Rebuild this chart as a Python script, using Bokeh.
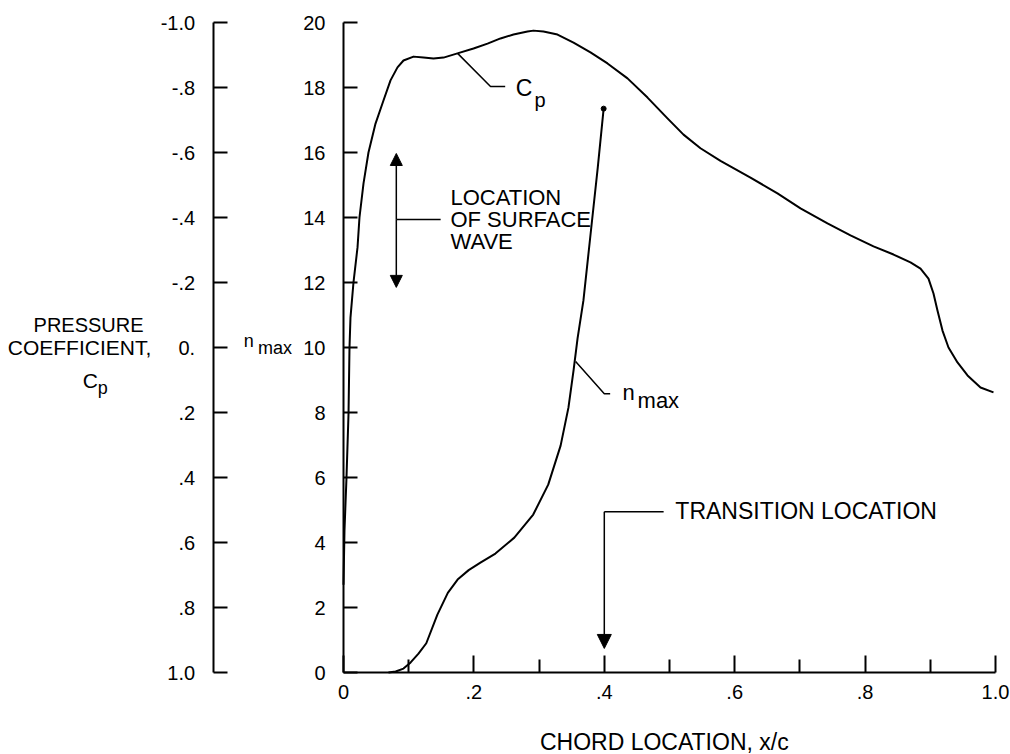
from bokeh.plotting import figure
from bokeh.models import Range1d, LinearAxis, FixedTicker, Label, Arrow, NormalHead
from bokeh.embed import file_html
from bokeh.resources import INLINE

# ---------------- data ----------------
cp_x = [0.0, 0.0015, 0.0046, 0.0077, 0.0092, 0.0107, 0.0153, 0.0215, 0.0245, 0.0307,
        0.0383, 0.0491, 0.0613, 0.0721, 0.0828, 0.092, 0.1074, 0.1227, 0.138, 0.1534,
        0.1748, 0.1994, 0.2209, 0.2408, 0.2607, 0.2822, 0.2914, 0.3067, 0.3282, 0.3528,
        0.3788, 0.4049, 0.4356, 0.4663, 0.4969, 0.5215, 0.5475, 0.5782, 0.6242, 0.6656,
        0.7009, 0.7423, 0.7776, 0.8129, 0.8436, 0.8696, 0.885, 0.8972, 0.9049, 0.911,
        0.9187, 0.9279, 0.9417, 0.9571, 0.977, 0.9969]
cp_vals = [0.73, 0.563, 0.40, 0.203, 0.0, -0.092, -0.20, -0.308, -0.40, -0.505,
           -0.60, -0.689, -0.76, -0.822, -0.862, -0.883, -0.895, -0.892, -0.889, -0.892,
           -0.905, -0.92, -0.935, -0.951, -0.963, -0.972, -0.975, -0.972, -0.963, -0.938,
           -0.908, -0.874, -0.828, -0.769, -0.705, -0.655, -0.613, -0.574, -0.523, -0.474,
           -0.428, -0.382, -0.345, -0.311, -0.286, -0.262, -0.243, -0.212, -0.166, -0.114,
           -0.052, 0.0, 0.046, 0.086, 0.123, 0.138]

nmax_x = [0.069, 0.080, 0.092, 0.103, 0.115, 0.127, 0.144, 0.160, 0.175, 0.192, 0.210,
          0.233, 0.262, 0.291, 0.314, 0.333, 0.345, 0.353, 0.359, 0.368, 0.379, 0.390, 0.399]
nmax_vals = [0.0, 0.03, 0.12, 0.31, 0.58, 0.90, 1.78, 2.45, 2.86, 3.15, 3.38,
             3.66, 4.15, 4.86, 5.78, 6.98, 8.15, 9.32, 10.28, 11.45, 13.5, 15.54, 17.35]

x_ticks = [0, 0.2, 0.4, 0.6, 0.8, 1]
x_tick_labels = ["0", ".2", ".4", ".6", ".8", "1.0"]
x_minor_ticks = [0.1, 0.3, 0.5, 0.7, 0.9]
n_ticks = [0, 2, 4, 6, 8, 10, 12, 14, 16, 18, 20]
n_tick_labels = ["0", "2", "4", "6", "8", "10", "12", "14", "16", "18", "20"]
cp_ticks = [-1, -0.8, -0.6, -0.4, -0.2, 0, 0.2, 0.4, 0.6, 0.8, 1]
cp_tick_labels = ["-1.0", "-.8", "-.6", "-.4", "-.2", "0.", ".2", ".4", ".6", ".8", "1.0"]

transition_x = 0.4
cp_axis_x = -0.2

FONT = "Liberation Sans"

# frame covers the whole canvas; all axes are placed at fixed data locations
p = figure(width=1010, height=754,
           x_range=Range1d(-343 / 652, 667 / 652),
           y_range=Range1d(-82 / 32.5, 20 + 22 / 32.5),
           x_axis_location=None, y_axis_location=None, toolbar_location=None,
           output_backend="svg", min_border_left=0, min_border_right=0,
           min_border_top=0, min_border_bottom=0)
p.extra_y_ranges = {"cp": Range1d(1 - p.y_range.start / 10, 1 - p.y_range.end / 10)}
p.xgrid.visible = False
p.ygrid.visible = False
p.outline_line_color = None
p.background_fill_color = "white"
p.border_fill_color = "white"


def style_axis(ax, tick_in, label_size="20px"):
    ax.major_tick_in = tick_in
    ax.major_tick_out = 0
    ax.minor_tick_out = 0
    ax.axis_line_width = 2
    ax.axis_line_color = "black"
    ax.major_tick_line_width = 2
    ax.major_tick_line_color = "black"
    ax.minor_tick_line_width = 2
    ax.minor_tick_line_color = "black"
    ax.major_label_text_font = FONT
    ax.major_label_text_font_size = label_size
    ax.major_label_text_color = "black"


xaxis = LinearAxis(fixed_location=0, ticker=FixedTicker(ticks=x_ticks, minor_ticks=x_minor_ticks),
                   bounds=(0, 1), major_label_overrides=dict(zip(x_ticks, x_tick_labels)))
style_axis(xaxis, 17)
xaxis.minor_tick_in = 13
xaxis.major_label_standoff = 12
p.add_layout(xaxis, "below")

cp_axis = LinearAxis(y_range_name="cp", fixed_location=cp_axis_x, bounds=(-1, 1),
                     ticker=FixedTicker(ticks=cp_ticks),
                     major_label_overrides=dict(zip(cp_ticks, cp_tick_labels)))
style_axis(cp_axis, 14)
cp_axis.major_label_standoff = 18
cp_axis.minor_tick_in = 0
p.add_layout(cp_axis, "left")

n_axis = LinearAxis(fixed_location=0, bounds=(0, 20), ticker=FixedTicker(ticks=n_ticks),
                    major_label_overrides=dict(zip(n_ticks, n_tick_labels)))
style_axis(n_axis, 14)
n_axis.major_label_standoff = 18
n_axis.minor_tick_in = 0
p.add_layout(n_axis, "left")

# curves
p.line(cp_x, cp_vals, y_range_name="cp", line_width=2, line_color="black", line_join="round")
p.line(nmax_x, nmax_vals, line_width=2, line_color="black", line_join="round")
p.scatter([nmax_x[-1]], [nmax_vals[-1]], size=5, color="black")

# leader lines
p.line([0.175, 0.2255, 0.248], [19.05, 18.03, 18.03], line_width=1.5, line_color="black")
p.line([0.356, 0.400, 0.409], [9.57, 8.58, 8.58], line_width=1.5, line_color="black")
p.line([0.081, 0.149], [13.94, 13.94], line_width=1.5, line_color="black")
p.line([transition_x, 0.491], [4.95, 4.95], line_width=1.5, line_color="black")

# arrows
head = dict(fill_color="black", line_color="black")
p.add_layout(Arrow(x_start=0.081, y_start=13.94, x_end=0.081, y_end=15.97,
                   end=NormalHead(size=12, **head), line_width=1.5, line_color="black"))
p.add_layout(Arrow(x_start=0.081, y_start=13.94, x_end=0.081, y_end=11.85,
                   end=NormalHead(size=12, **head), line_width=1.5, line_color="black"))
p.add_layout(Arrow(x_start=transition_x, y_start=4.95, x_end=transition_x, y_end=0.74,
                   end=NormalHead(size=14, **head), line_width=1.5, line_color="black"))


def add_text(x, y, text, size="22px", align="left", baseline="middle"):
    p.add_layout(Label(x=x, y=y, text=text, text_font=FONT, text_font_size=size,
                       text_align=align, text_baseline=baseline, text_color="black"))


add_text(0.264, 17.97, "C", "23px")
add_text(0.293, 17.62, "p", "20px")
add_text(0.428, 8.62, "n", "22px")
add_text(0.451, 8.36, "max", "22px")
add_text(0.164, 14.62, "LOCATION")
add_text(0.164, 13.94, "OF SURFACE")
add_text(0.164, 13.26, "WAVE")
add_text(0.509, 4.98, "TRANSITION LOCATION", "23px")
add_text(0.492, -2.13, "CHORD LOCATION, x/c", "23px", align="center")
# axis titles
add_text(-0.391, 10.68, "PRESSURE", "20px", align="center")
add_text(-0.515, 10.0, "COEFFICIENT,", "21px")
add_text(-0.400, 8.98, "C", "21px")
add_text(-0.377, 8.75, "p", "18px")
add_text(-0.153, 10.2, "n", "18px")
add_text(-0.131, 9.97, "max", "18px")

open("out.html", "w").write(file_html(p, INLINE))
